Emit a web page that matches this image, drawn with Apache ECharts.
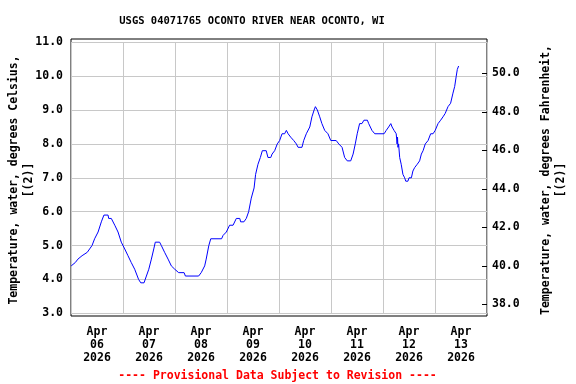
<!DOCTYPE html>
<html><head><meta charset="utf-8">
<script src="https://cdn.jsdelivr.net/npm/echarts@6/dist/echarts.min.js"></script>
<style>html,body{margin:0;padding:0;background:#fff}#c{width:576px;height:384px}</style>
</head><body><div id="c"></div>
<script>
// Hours since Apr 06 2026 00:00 and water temperature (deg C)
const hours = [0.1,2.0,3.2,5.1,7.5,8.6,9.7,10.9,12.5,14.0,15.2,17.1,17.4,18.6,20.2,21.7,23.2,24.8,26.3,27.8,29.4,31.2,32.2,33.7,34.8,35.9,37.1,38.2,38.9,40.9,41.7,43.2,44.8,46.3,47.9,49.7,52.2,52.8,58.9,60.1,61.7,62.4,63.6,64.5,69.5,70.2,71.7,73.2,74.8,76.3,77.9,78.3,79.8,80.9,82.0,83.2,84.5,85.2,86.3,87.4,88.3,90.1,90.9,92.2,92.8,94.0,95.2,96.3,97.4,98.6,99.4,100.2,101.4,102.8,104.0,104.8,106.6,107.4,108.6,110.2,111.2,112.2,112.8,113.7,114.8,115.8,117.1,118.6,119.9,122.4,123.6,125.1,126.3,127.5,129.1,130.2,131.2,132.1,133.2,134.3,135.2,136.8,137.4,138.3,138.9,140.2,141.7,144.5,145.5,146.6,147.6,148.2,149.1,150.1,150.5,150.7,150.9,151.2,151.7,152.4,153.2,154.0,154.5,155.5,156.0,157.1,157.8,158.6,159.8,160.9,161.7,162.5,163.5,164.8,166.0,167.1,168.1,169.4,170.6,171.7,172.7,174.0,175.2,176.3,177.1,177.8,178.3,178.9];
const tempC = [4.4,4.5,4.6,4.7,4.8,4.9,5.0,5.2,5.4,5.7,5.9,5.9,5.8,5.8,5.6,5.4,5.1,4.9,4.7,4.5,4.3,4.0,3.9,3.9,4.1,4.3,4.6,4.9,5.1,5.1,5.0,4.8,4.6,4.4,4.3,4.2,4.2,4.1,4.1,4.2,4.4,4.6,5.0,5.2,5.2,5.3,5.4,5.6,5.6,5.8,5.8,5.7,5.7,5.8,6.0,6.4,6.7,7.1,7.4,7.6,7.8,7.8,7.6,7.6,7.7,7.8,8.0,8.1,8.3,8.3,8.4,8.3,8.2,8.1,8.0,7.9,7.9,8.1,8.3,8.5,8.8,9.0,9.1,9.0,8.8,8.6,8.4,8.3,8.1,8.1,8.0,7.9,7.6,7.5,7.5,7.7,8.0,8.3,8.6,8.6,8.7,8.7,8.6,8.6,8.4,8.3,8.3,8.3,8.4,8.5,8.6,8.5,8.4,8.3,8.0,8.2,7.9,8.0,7.6,7.4,7.1,7.0,6.9,6.9,7.0,7.0,7.2,7.3,7.4,7.5,7.7,7.8,8.0,8.1,8.3,8.3,8.4,8.6,8.7,8.8,8.9,9.1,9.2,9.5,9.7,10.0,10.2,10.3];
const dayLabelHours = [12,36,60,84,108,132,156,180];
const dayLabels = ['Apr\n06\n2026','Apr\n07\n2026','Apr\n08\n2026','Apr\n09\n2026','Apr\n10\n2026','Apr\n11\n2026','Apr\n12\n2026','Apr\n13\n2026'];
const fTicks = [38,40,42,44,46,48,50];
const titleText = 'USGS 04071765 OCONTO RIVER NEAR OCONTO, WI';
const leftName = 'Temperature, water, degrees Celsius,\n[(2)]';
const rightName = 'Temperature, water, degrees Fahrenheit,\n[(2)]';
const noteText = '---- Provisional Data Subject to Revision ----';

const FONT = "'DejaVu Sans Mono', monospace";
const chart = echarts.init(document.getElementById('c'), null, {renderer:'canvas'});
const data = hours.map((h,i)=>[h,tempC[i]]);
chart.setOption({
  animation:false,
  backgroundColor:'#fff',
  grid:[
    {left:71, top:42.3, width:416, height:271, show:false, containLabel:false},
    {left:71, top:39, width:416, height:277, show:true, borderColor:'#000', borderWidth:1, backgroundColor:'transparent', containLabel:false}
  ],
  xAxis:[
    {type:'value', gridIndex:0, min:0, max:192, interval:24,
     axisLine:{show:false}, axisTick:{show:false}, axisLabel:{show:false},
     splitLine:{show:true, lineStyle:{color:'#c8c8c8', width:1}}},
    {type:'value', gridIndex:1, min:0, max:192, position:'bottom',
     axisLine:{show:false}, axisTick:{show:false}, splitLine:{show:false},
     axisLabel:{show:true, customValues:dayLabelHours, margin:10,
       fontFamily:FONT, fontWeight:'bold', fontSize:11.5, color:'#000', lineHeight:12.7,
       formatter:(v)=>{const i=dayLabelHours.indexOf(Math.round(v)); return i>=0?dayLabels[i]:'';}}}
  ],
  yAxis:[
    {type:'value', gridIndex:0, min:3, max:11, interval:1,
     axisLine:{show:false}, axisTick:{show:false},
     axisLabel:{margin:8, padding:[3,0,0,0], fontFamily:FONT, fontWeight:'bold', fontSize:11.5, color:'#000', formatter:(v)=>v.toFixed(1)},
     splitLine:{show:true, lineStyle:{color:'#c8c8c8', width:1}}},
    {type:'value', gridIndex:0, position:'right', min:37.53, max:51.61,
     axisLine:{show:false}, splitLine:{show:false},
     axisTick:{show:true, inside:true, length:5, customValues:fTicks, lineStyle:{color:'#000'}},
     axisLabel:{customValues:fTicks, margin:5, padding:[3,0,0,0], fontFamily:FONT, fontWeight:'bold', fontSize:11.5, color:'#000', formatter:(v)=>v.toFixed(1)}},
    {type:'value', gridIndex:1, show:false, min:0, max:1}
  ],
  series:[{type:'line', xAxisIndex:0, yAxisIndex:0, data:data, showSymbol:false, symbol:'none',
    lineStyle:{color:'#0000ff', width:1}}],
  graphic:[
    {type:'text', x:252, y:21, style:{text:titleText, font:"bold 10.5px 'DejaVu Sans Mono'", fill:'#000', textAlign:'center', textVerticalAlign:'middle'}},
    {type:'text', x:21.5, y:180, rotation:Math.PI/2, style:{text:leftName, font:"bold 11.5px 'DejaVu Sans Mono'", lineHeight:15, fill:'#000', textAlign:'center', textVerticalAlign:'middle'}},
    {type:'text', x:553.5, y:180, rotation:Math.PI/2, style:{text:rightName, font:"bold 11.5px 'DejaVu Sans Mono'", lineHeight:15, fill:'#000', textAlign:'center', textVerticalAlign:'middle'}},
    {type:'text', x:277.5, y:376, style:{text:noteText, font:"bold 11.5px 'DejaVu Sans Mono'", fill:'#ff0000', textAlign:'center', textVerticalAlign:'middle'}}
  ]
});
</script></body></html>
